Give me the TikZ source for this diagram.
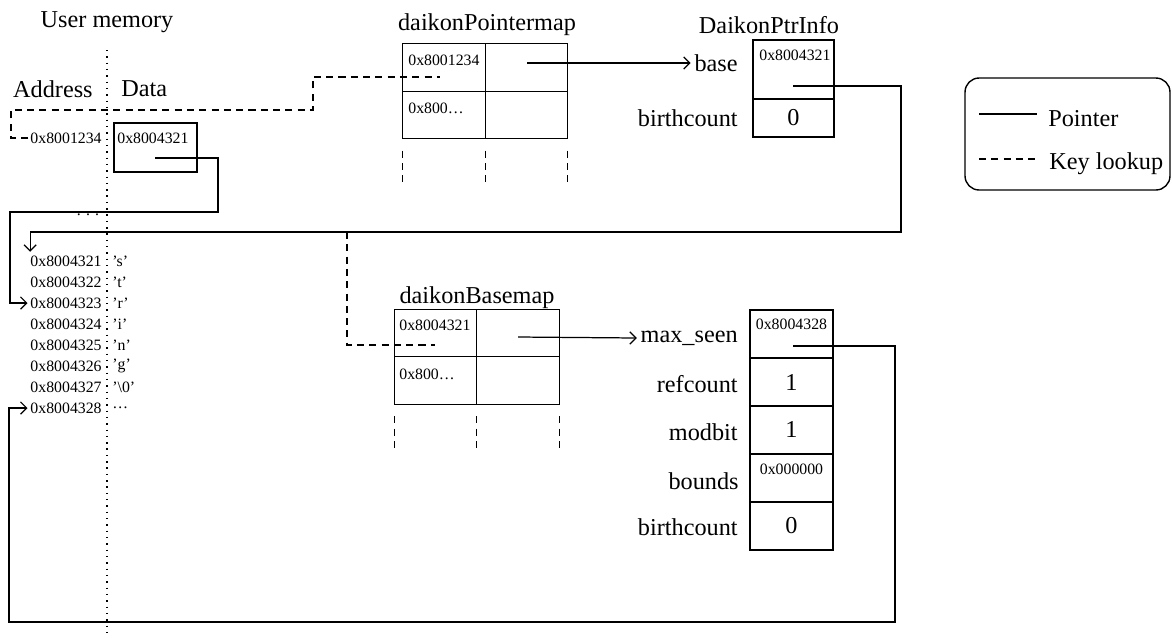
\documentclass[tikz,border=0pt]{standalone}
\usepackage{fontspec}
\setmainfont{Liberation Serif}
\usetikzlibrary{positioning,arrows.meta}

\tikzset{
  big/.style={font=\fontsize{13.8}{16}\selectfont, inner sep=0pt},
  small/.style={font=\fontsize{9}{10}\selectfont, inner sep=0pt},
  cell/.style={draw, line width=0.8pt, outer sep=0pt, inner sep=0pt,
    minimum width=1.65cm, minimum height=0.95cm, font=\fontsize{13.8}{16}\selectfont},
  ptr/.style={line width=0.7pt},
  key/.style={line width=0.7pt, dash pattern=on 4pt off 3pt},
  sep/.style={line width=0.8pt, dash pattern=on 0.8pt off 2.8pt},
}

\begin{document}
\begin{tikzpicture}[x=0.02cm,y=-0.02cm,>={Straight Barb[length=3.5pt,width=7pt]}]
\useasboundingbox (0,0) rectangle (1172,637);

% user memory
\node[big] (usermem) at (107,22) {User memory};
\node[big,anchor=east] (addr) at (93,89) {Address};
\node[big,anchor=west] (data) at (121,89) {Data};
\coordinate (septop) at (107,50);
\coordinate (sepbot) at (107,637);
\draw[sep] (septop) -- (sepbot);
\node[small,anchor=east] (uaddr) at (102,138) {0x8001234};
\node[cell,minimum width=1.66cm,minimum height=0.98cm] (ubox) at (155.5,147.5) {};
\node[small,anchor=west] (uval) at (117,138) {0x8004321};
\coordinate (ubox-p) at (155,158);
\node[small] (udots) at (88,215) {. . .};
\foreach \a/\d [count=\i] in {0x8004321/'s',0x8004322/'t',0x8004323/'r',0x8004324/'i',
  0x8004325/'n',0x8004326/'g',0x8004327/'\textbackslash 0',0x8004328/\ldots}{
  \node[small,anchor=east] (a\i) at (102,{240+21*\i}) {\a};
  \node[small,anchor=west] (d\i) at (112,{240+21*\i}) {\d};
}

% daikonPointermap
\node[big] (pmname) at (487,25) {daikonPointermap};
\node[cell] (pm11) at (444,67.5) {};
\node[cell,right=0pt of pm11] (pm12) {};
\node[cell,below=0pt of pm11] (pm21) {};
\node[cell,right=0pt of pm21] (pm22) {};
\node[small,anchor=west] (pmk1) at (408,60) {0x8001234};
\node[small,anchor=west] (pmk2) at (408,108) {0x800\ldots};
\foreach \c in {pm21.south west,pm21.south east,pm22.south east}
  \draw[key] ([yshift=-0.24cm]\c) -- ++(0,35);
\coordinate (pm11-k) at (440,77);
\coordinate (pm12-p) at (527,63);

% DaikonPtrInfo
\node[big] (piname) at (769,25) {DaikonPtrInfo};
\node[cell,minimum width=1.62cm,minimum height=1.18cm] (pibase) at (793.5,69.5) {};
\node[cell,minimum width=1.62cm,minimum height=0.76cm,below=0pt of pibase] (pibirth) {0};
\node[small,anchor=west] (pival) at (759,55) {0x8004321};
\node[big,anchor=east] (pibaselbl) at (738,63) {base};
\node[big,anchor=east] (pibirthlbl) at (738,118) {birthcount};
\coordinate (pibase-p) at (793,86);

% daikonBasemap
\node[big] (bmname) at (477,298) {daikonBasemap};
\node[cell] (bm11) at (435.5,333) {};
\node[cell,right=0pt of bm11] (bm12) {};
\node[cell,below=0pt of bm11] (bm21) {};
\node[cell,right=0pt of bm21] (bm22) {};
\node[small,anchor=west] (bmk1) at (399,325) {0x8004321};
\node[small,anchor=west] (bmk2) at (399,374) {0x800\ldots};
\foreach \c in {bm21.south west,bm21.south east,bm22.south east}
  \draw[key] ([yshift=-0.24cm]\c) -- ++(0,35);
\coordinate (bm11-k) at (435,345);
\coordinate (bm12-p) at (518,337);

% base record
\node[cell,minimum width=1.66cm,minimum height=0.96cm] (ms) at (791.5,334) {};
\node[cell,minimum width=1.66cm,minimum height=0.96cm,below=0pt of ms] (rc) {1};
\node[cell,minimum width=1.66cm,minimum height=0.96cm,below=0pt of rc] (mb) {1};
\node[cell,minimum width=1.66cm,minimum height=0.96cm,below=0pt of mb] (bd) {};
\node[cell,minimum width=1.66cm,minimum height=0.96cm,below=0pt of bd] (bc) {0};
\node[small] (msval) at (791.5,324) {0x8004328};
\node[small] (bdval) at (791.5,469) {0x000000};
\node[big,anchor=east] (mslbl) at (738,338) {max\_seen};
\node[big,anchor=east] (rclbl) at (738,384) {refcount};
\node[big,anchor=east] (mblbl) at (738,432) {modbit};
\node[big,anchor=east] (bdlbl) at (739,481) {bounds};
\node[big,anchor=east] (bclbl) at (738,527) {birthcount};
\coordinate (ms-p) at (793,346);

% pointers
\draw[ptr,->] (ubox-p) -- (218,158) -- (218,212) -- (10,212) |- ([xshift=-1.5pt]a3.west);
\draw[ptr,->] (pibase-p) -- (901,86) -- (901,232) -| ([yshift=2pt]a1.north west);
\draw[ptr,->] (ms-p) -- (895,346) -- (895,622) -- (9,622) |- ([xshift=-1.5pt]a8.west);
\draw[ptr,->] (pm12-p) -- ([xshift=-2pt]pibaselbl.west);
\draw[ptr,->] (bm12-p) -- ([xshift=-2pt]mslbl.west);

% key lookups
\coordinate (lookup) at (347,232);
\draw[key] ([xshift=-1pt]uaddr.west) -- (11,138) -- (11,110) -- (313,110) -- (313,77) -- (pm11-k);
\draw[key] (lookup) |- (bm11-k);

% legend
\node[draw,line width=0.8pt,rounded corners=8pt,minimum width=4.1cm,minimum height=2.24cm] (legend) at (1067.5,134) {};
\coordinate (lgp1) at (979,114);
\coordinate (lgp2) at (1037,114);
\coordinate (lgk1) at (979,159);
\coordinate (lgk2) at (1037,159);
\draw[ptr] (lgp1) -- (lgp2);
\draw[key] (lgk1) -- (lgk2);
\node[big,anchor=west] (lgptr) at (1048,119) {Pointer};
\node[big,anchor=west] (lgkey) at (1049,164) {Key lookup};
\end{tikzpicture}
\end{document}
